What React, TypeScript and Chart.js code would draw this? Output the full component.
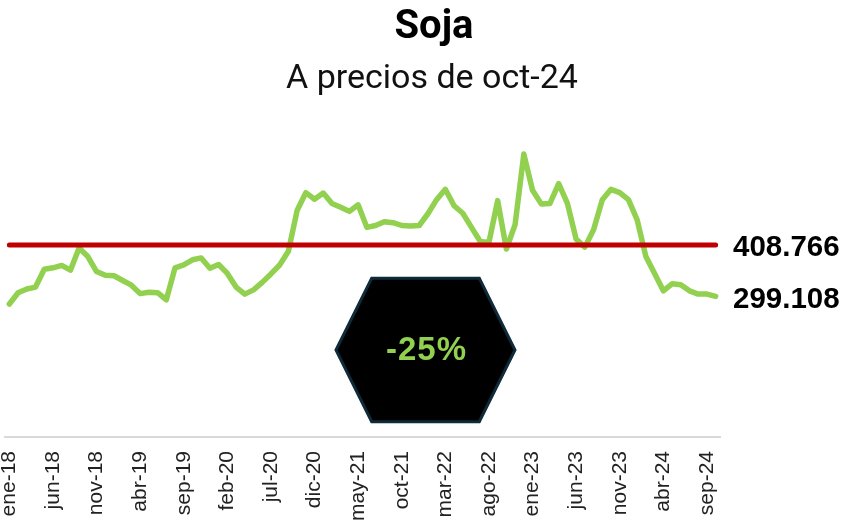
import React, { useEffect, useRef } from "react";
import { Chart, registerables } from "chart.js";

Chart.register(...registerables);

const TITLE = "Soja";
const SUBTITLE = "A precios de oct-24";
const MONTHS = ["ene", "feb", "mar", "abr", "may", "jun", "jul", "ago", "sep", "oct", "nov", "dic"];
const YEARS = [18, 19, 20, 21, 22, 23, 24];
const CATEGORIES: string[] = [];
YEARS.forEach((y) => MONTHS.forEach((m) => CATEGORIES.push(`${m}-${y}`)));
const LABELS = CATEGORIES.slice(0, 82); // ene-18 .. oct-24

const PRICES = [
  283, 307, 315, 319, 357, 360, 365, 355, 402, 384, 352, 344,
  343, 333, 323, 305, 308, 307, 292, 360, 366, 377, 381, 359,
  367, 348, 319, 304, 313, 329, 347, 366, 395, 482, 520, 506,
  519, 497, 489, 480, 494, 446, 450, 458, 456, 450, 449, 450,
  475, 505, 527, 492, 476, 446, 416, 414, 503, 400, 452, 602,
  525, 496, 497, 539, 497, 421, 404, 441, 505, 527, 520, 505,
  462, 384, 348, 311, 326, 324, 311, 304, 304, 299.108,
];
const AVERAGE = 408.766;
const AVERAGE_LINE = LABELS.map(() => AVERAGE);
const CHANGE_TEXT = "-25%";
const LAST_VALUE = PRICES[PRICES.length - 1];

const fmt = (v: number) => v.toFixed(3);

const overlayPlugin = {
  id: "overlay",
  afterDraw(chart: any) {
    const ctx = chart.ctx as CanvasRenderingContext2D;
    const area = chart.chartArea;
    const y = chart.scales.y;
    ctx.save();
    // titles
    ctx.fillStyle = "#000";
    ctx.textAlign = "center";
    ctx.textBaseline = "alphabetic";
    ctx.font = "bold 40px Roboto";
    ctx.fillText(TITLE, 434, 38);
    ctx.fillStyle = "#111";
    ctx.font = "34px Roboto";
    ctx.fillText(SUBTITLE, 432, 88);

    // value labels
    ctx.fillStyle = "#000";
    ctx.textAlign = "left";
    ctx.textBaseline = "middle";
    ctx.font = "bold 29.5px 'Liberation Sans', Arial";
    ctx.fillText(fmt(AVERAGE), area.right + 13, y.getPixelForValue(AVERAGE) + 3);
    ctx.fillText(fmt(LAST_VALUE), area.right + 13, y.getPixelForValue(LAST_VALUE) + 3);

    // hexagon
    const cx = 425.5;
    const cy = 350;
    const hw = 89.5;
    const tw = 53.8;
    const hh = 71.7;
    ctx.beginPath();
    ctx.moveTo(cx - hw, cy);
    ctx.lineTo(cx - tw, cy - hh);
    ctx.lineTo(cx + tw, cy - hh);
    ctx.lineTo(cx + hw, cy);
    ctx.lineTo(cx + tw, cy + hh);
    ctx.lineTo(cx - tw, cy + hh);
    ctx.closePath();
    ctx.fillStyle = "#000";
    ctx.fill();
    ctx.lineWidth = 3;
    ctx.strokeStyle = "#0f2a38";
    ctx.stroke();

    ctx.fillStyle = "#92d050";
    ctx.textAlign = "center";
    ctx.font = "bold 33px 'Liberation Sans', Arial";
    (ctx as any).letterSpacing = "1px";
    ctx.fillText(CHANGE_TEXT, cx + 1, cy + 1);
    (ctx as any).letterSpacing = "0px";
    ctx.restore();
  },
};

export default function App() {
  const ref = useRef<HTMLCanvasElement>(null);
  useEffect(() => {
    if (!ref.current) return;
    const chart = new Chart(ref.current, {
      type: "line",
      data: {
        labels: LABELS,
        datasets: [
          {
            label: "Promedio",
            data: AVERAGE_LINE,
            borderColor: "#c00000",
            borderWidth: 5,
            pointRadius: 0,
            borderCapStyle: "round",
            order: 0,
          },
          {
            label: "Soja",
            data: PRICES,
            borderColor: "#92d050",
            borderWidth: 5.5,
            pointRadius: 0,
            tension: 0,
            borderCapStyle: "round",
            borderJoinStyle: "round",
            order: 1,
          },
        ],
      },
      options: {
        responsive: false,
        animation: false,
        layout: { padding: { left: 5, right: 124, top: 108, bottom: 0 } },
        plugins: { legend: { display: false }, tooltip: { enabled: false }, title: { display: false } },
        scales: {
          y: { display: false, min: 0, max: 700 },
          x: {
            offset: true,
            grid: { display: false, drawTicks: false },
            border: { display: true, color: "#d9d9d9", width: 2 },
            ticks: {
              autoSkip: false,
              minRotation: 90,
              maxRotation: 90,
              padding: 14,
              color: "#222",
              font: { family: "'Liberation Sans', Arial", size: 21 },
              callback: (_v: any, i: number) => (i % 5 === 0 ? LABELS[i] : ""),
            },
            afterFit: (scale: any) => {
              scale.height = 89;
              scale.paddingLeft = 0;
              scale.paddingRight = 0;
            },
          },
        },
      },
      plugins: [overlayPlugin],
    });
    return () => chart.destroy();
  }, []);
  return (
    <div style={{ position: "absolute", left: 0, top: 0, width: 844, height: 526, background: "#fff" }}>
      <canvas ref={ref} width={844} height={526} style={{ display: "block" }} />
    </div>
  );
}
